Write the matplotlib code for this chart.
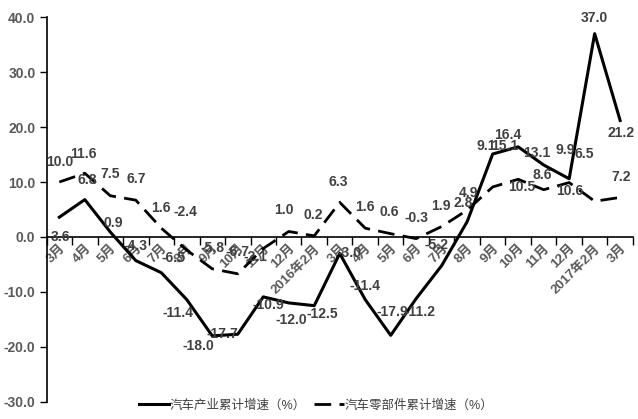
import matplotlib.pyplot as plt

plt.rcParams['font.family'] = ['Liberation Sans', 'Noto Sans CJK SC', 'DejaVu Sans']

months = ['3月', '4月', '5月', '6月', '7月', '8月', '9月', '10月', '11月', '12月',
          '2016年2月', '3月', '4月', '5月', '6月', '7月', '8月', '9月', '10月', '11月',
          '12月', '2017年2月', '3月']
auto_growth = [3.6, 6.8, 0.9, -4.3, -6.5, -11.4, -18.0, -17.7, -10.9, -12.0,
               -12.5, -3.0, -11.4, -17.9, -11.2, -5.2, 2.8, 15.1, 16.4, 13.1,
               10.6, 37.0, 21.2]
parts_growth = [10.0, 11.6, 7.5, 6.7, 1.6, -2.4, -5.8, -6.7, -2.1, 1.0,
                0.2, 6.3, 1.6, 0.6, -0.3, 1.9, 4.9, 9.1, 10.5, 8.6,
                9.9, 6.5, 7.2]
auto_name = '汽车产业累计增速（%）'
parts_name = '汽车零部件累计增速（%）'

# label offsets in pixels (dx, dy), picked by eye to match the original
auto_off = [(1, -20), (2, 20), (3, 9), (0, 15), (12, 15), (-9, -13), (-14, -10), (-15, 0),
            (5, -8), (3, -17), (8, -8), (10, 0), (0, 14), (2, 23), (4, -13), (-5, 21),
            (-4, 19), (12, 8), (-10, 12), (-7, 12), (1, -12), (0, 16), (1, -13)]
parts_off = [(0, 20), (-1, 19), (0, 22), (0, 21), (0, 20), (-1, 38), (0, 21), (0, 22),
             (-8, -8), (-5, 21), (-1, 21), (-1, 20), (0, 21), (-1, 22), (0, 21), (-1, 21),
             (1, 17), (-6, 41), (4, -8), (-1, 15), (-4, 33), (-10, 47), (1, 20)]

fig = plt.figure(figsize=(6.38, 4.19), dpi=100)
ax = fig.add_axes([0.073, 0.041, 0.919, 0.918])

x = list(range(len(months)))
ax.plot(x, auto_growth, color='black', lw=2.2, label=auto_name, zorder=3)
ax.plot(x, parts_growth, color='black', lw=2.0, dashes=(6, 3), label=parts_name, zorder=3)

lab_color = '#404040'
for i in x:
    ax.annotate(f'{auto_growth[i]:.1f}', (i, auto_growth[i]), xytext=auto_off[i],
                textcoords='offset pixels', ha='center', va='center',
                fontsize=10, fontweight='bold', color=lab_color, zorder=4)
    ax.annotate(f'{parts_growth[i]:.1f}', (i, parts_growth[i]), xytext=parts_off[i],
                textcoords='offset pixels', ha='center', va='center',
                fontsize=10, fontweight='bold', color=lab_color, zorder=4)

ax.set_xlim(-0.5, len(months) - 0.5)
ax.set_ylim(-30, 40)
ax.set_yticks(range(-30, 41, 10))
ax.set_yticklabels([f'{v:.1f}' for v in range(-30, 41, 10)])
ax.tick_params(axis='y', length=5, width=1, colors='black', labelcolor='#595959',
               labelsize=10, pad=3)
for t in ax.get_yticklabels():
    t.set_fontweight('bold')

ax.spines['bottom'].set_position(('data', 0))
ax.spines['top'].set_visible(False)
ax.spines['right'].set_visible(False)
ax.spines['left'].set_linewidth(1.2)
ax.spines['bottom'].set_linewidth(1.2)

ax.set_xticks([i - 0.5 for i in range(len(months) + 1)])
ax.set_xticklabels([])
ax.tick_params(axis='x', which='major', length=6, width=1, direction='out')
ax.set_xticks(x, minor=True)
ax.set_xticklabels(months, minor=True, rotation=45, ha='right', va='top',
                   rotation_mode='anchor', fontsize=9.5, fontweight='bold', color='#595959')
ax.tick_params(axis='x', which='minor', length=0, pad=4)

ax.legend(loc='lower center', bbox_to_anchor=(0.46, -0.055), ncol=2, frameon=False,
          fontsize=9, handlelength=2.4, handletextpad=0.1, columnspacing=0.6,
          labelcolor='#404040')

fig.savefig('out.png', dpi=100)
